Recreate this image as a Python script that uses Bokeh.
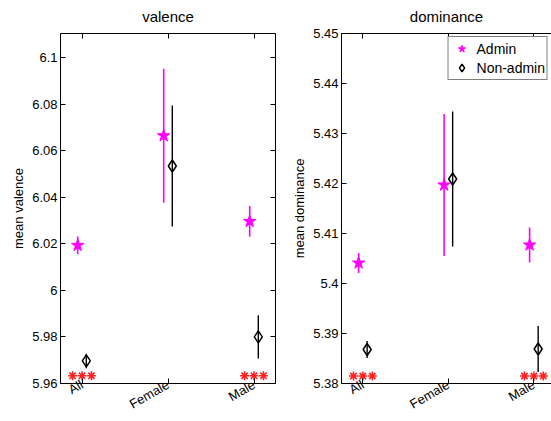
import numpy as np
from bokeh.plotting import figure
from bokeh.models import FixedTicker, LinearAxis, Range1d, Legend, LegendItem, CustomLabelingPolicy
from bokeh.layouts import row
from bokeh.embed import file_html
from bokeh.resources import INLINE

# ---------------- data ----------------
categories = ["All", "Female", "Male"]
cat_x = [1, 2, 3]
groups = ["Admin", "Non-admin"]

valence_admin_mean = [6.0193, 6.0664, 6.0296]
valence_admin_err = [0.0038, 0.0288, 0.0066]
valence_nonadmin_mean = [5.9697, 6.0534, 5.9800]
valence_nonadmin_err = [0.0031, 0.0260, 0.0093]

dominance_admin_mean = [5.4041, 5.4197, 5.4077]
dominance_admin_err = [0.0020, 0.0142, 0.0035]
dominance_nonadmin_mean = [5.3868, 5.4209, 5.3869]
dominance_nonadmin_err = [0.0017, 0.0135, 0.0046]

significant = [True, False, True]
valence_sig_y = 5.9633
dominance_sig_y = 5.3815

valence_ticks = [5.96, 5.98, 6.0, 6.02, 6.04, 6.06, 6.08, 6.1]
valence_tick_labels = ["5.96", "5.98", "6", "6.02", "6.04", "6.06", "6.08", "6.1"]
dominance_ticks = [5.38, 5.39, 5.40, 5.41, 5.42, 5.43, 5.44, 5.45]
dominance_tick_labels = ["5.38", "5.39", "5.4", "5.41", "5.42", "5.43", "5.44", "5.45"]

FONT = "Liberation Sans"
MAGENTA = "#ff00ff"


def style_axis(ax, labels=True, size="13px"):
    ax.major_tick_in = 5
    ax.major_tick_out = 0
    ax.minor_tick_line_color = None
    ax.axis_line_color = "black"
    ax.major_tick_line_color = "black"
    ax.major_label_text_font = FONT
    ax.major_label_text_color = "black"
    ax.axis_label = None
    if labels:
        ax.major_label_text_font_size = size
    else:
        ax.major_label_text_font_size = "1px"
        ax.major_label_standoff = 0
        ax.major_label_policy = CustomLabelingPolicy(code="return new Set()")


def panel(title, ylabel, a_mean, a_err, n_mean, n_err, sig_y, ticks, tlabels,
          yr, xend, width, left_border, right_border, right_axis, legend):
    p = figure(width=width, height=421, output_backend="svg", toolbar_location=None,
               x_range=Range1d(0.75, xend), y_range=Range1d(*yr),
               min_border_left=left_border, min_border_right=right_border,
               min_border_top=0, min_border_bottom=0)
    p.xgrid.visible = False
    p.ygrid.visible = False
    p.outline_line_color = None
    p.background_fill_color = "white"
    p.border_fill_color = "white"

    p.title.text = title
    p.title.align = "center"
    p.title.text_font = FONT
    p.title.text_font_size = "15px"
    p.title.text_font_style = "normal"
    p.title.text_color = "black"

    # x axis
    xa = p.xaxis[0]
    xa.ticker = FixedTicker(ticks=cat_x)
    xa.major_label_overrides = {x: c for x, c in zip(cat_x, categories)}
    xa.major_label_orientation = np.pi / 6
    style_axis(xa, size="13px")
    xa.major_label_standoff = 0

    ya = p.yaxis[0]
    ya.ticker = FixedTicker(ticks=ticks)
    ya.major_label_overrides = {t: l for t, l in zip(ticks, tlabels)}
    style_axis(ya)
    ya.major_label_standoff = 3
    ya.axis_label = ylabel
    ya.axis_label_text_font = FONT
    ya.axis_label_text_font_size = "13px"
    ya.axis_label_text_font_style = "normal"
    ya.axis_label_text_color = "black"
    ya.axis_label_standoff = 3

    top = LinearAxis(ticker=FixedTicker(ticks=cat_x))
    style_axis(top, labels=False)
    p.add_layout(top, "above")
    if right_axis:
        ra = LinearAxis(ticker=FixedTicker(ticks=ticks))
        style_axis(ra, labels=False)
        p.add_layout(ra, "right")

    ax_ = np.array(cat_x) - 0.05
    nx_ = np.array(cat_x) + 0.05
    a_mean = np.array(a_mean); a_err = np.array(a_err)
    n_mean = np.array(n_mean); n_err = np.array(n_err)

    p.segment(x0=ax_, y0=a_mean - a_err, x1=ax_, y1=a_mean + a_err,
              line_color=MAGENTA, line_width=1.6)
    p.segment(x0=nx_, y0=n_mean - n_err, x1=nx_, y1=n_mean + n_err,
              line_color="black", line_width=1.4)
    r_a = p.scatter(ax_, a_mean, marker="star", size=13, fill_color=MAGENTA,
                    line_color=MAGENTA, line_width=1)
    r_n = p.scatter(nx_, n_mean, marker="diamond", size=12, fill_color=None,
                    line_color="black", line_width=1.5)

    sx, sy = [], []
    for c, s in zip(cat_x, significant):
        if s:
            for off in (-0.11, 0.0, 0.11):
                sx.append(c + off)
                sy.append(sig_y)
    p.scatter(sx, sy, marker="asterisk", size=9, line_color="#ff2020", line_width=1.6)

    if legend:
        lg = Legend(items=[LegendItem(label=groups[0], renderers=[r_a]),
                           LegendItem(label=groups[1], renderers=[r_n])],
                    location="top_right")
        lg.label_text_font = FONT
        lg.label_text_font_size = "14px"
        lg.label_text_color = "black"
        lg.border_line_color = "black"
        lg.border_line_width = 1
        lg.padding = 2
        lg.spacing = 0
        lg.margin = 3
        lg.glyph_width = 22
        lg.glyph_height = 19
        lg.label_height = 19
        lg.label_standoff = 4
        lg.background_fill_alpha = 1
        p.add_layout(lg)
    return p


p1 = panel("valence", "mean valence", valence_admin_mean, valence_admin_err,
           valence_nonadmin_mean, valence_nonadmin_err, valence_sig_y,
           valence_ticks, valence_tick_labels, (5.96, 6.1103), 3.25,
           281, 60, 6, True, False)
p2 = panel("dominance", "mean dominance", dominance_admin_mean, dominance_admin_err,
           dominance_nonadmin_mean, dominance_nonadmin_err, dominance_sig_y,
           dominance_ticks, dominance_tick_labels, (5.38, 5.45), 3.206,
           270, 60, 0, False, True)

layout = row(p1, p2)
open("out.html", "w").write(file_html(layout, INLINE))
